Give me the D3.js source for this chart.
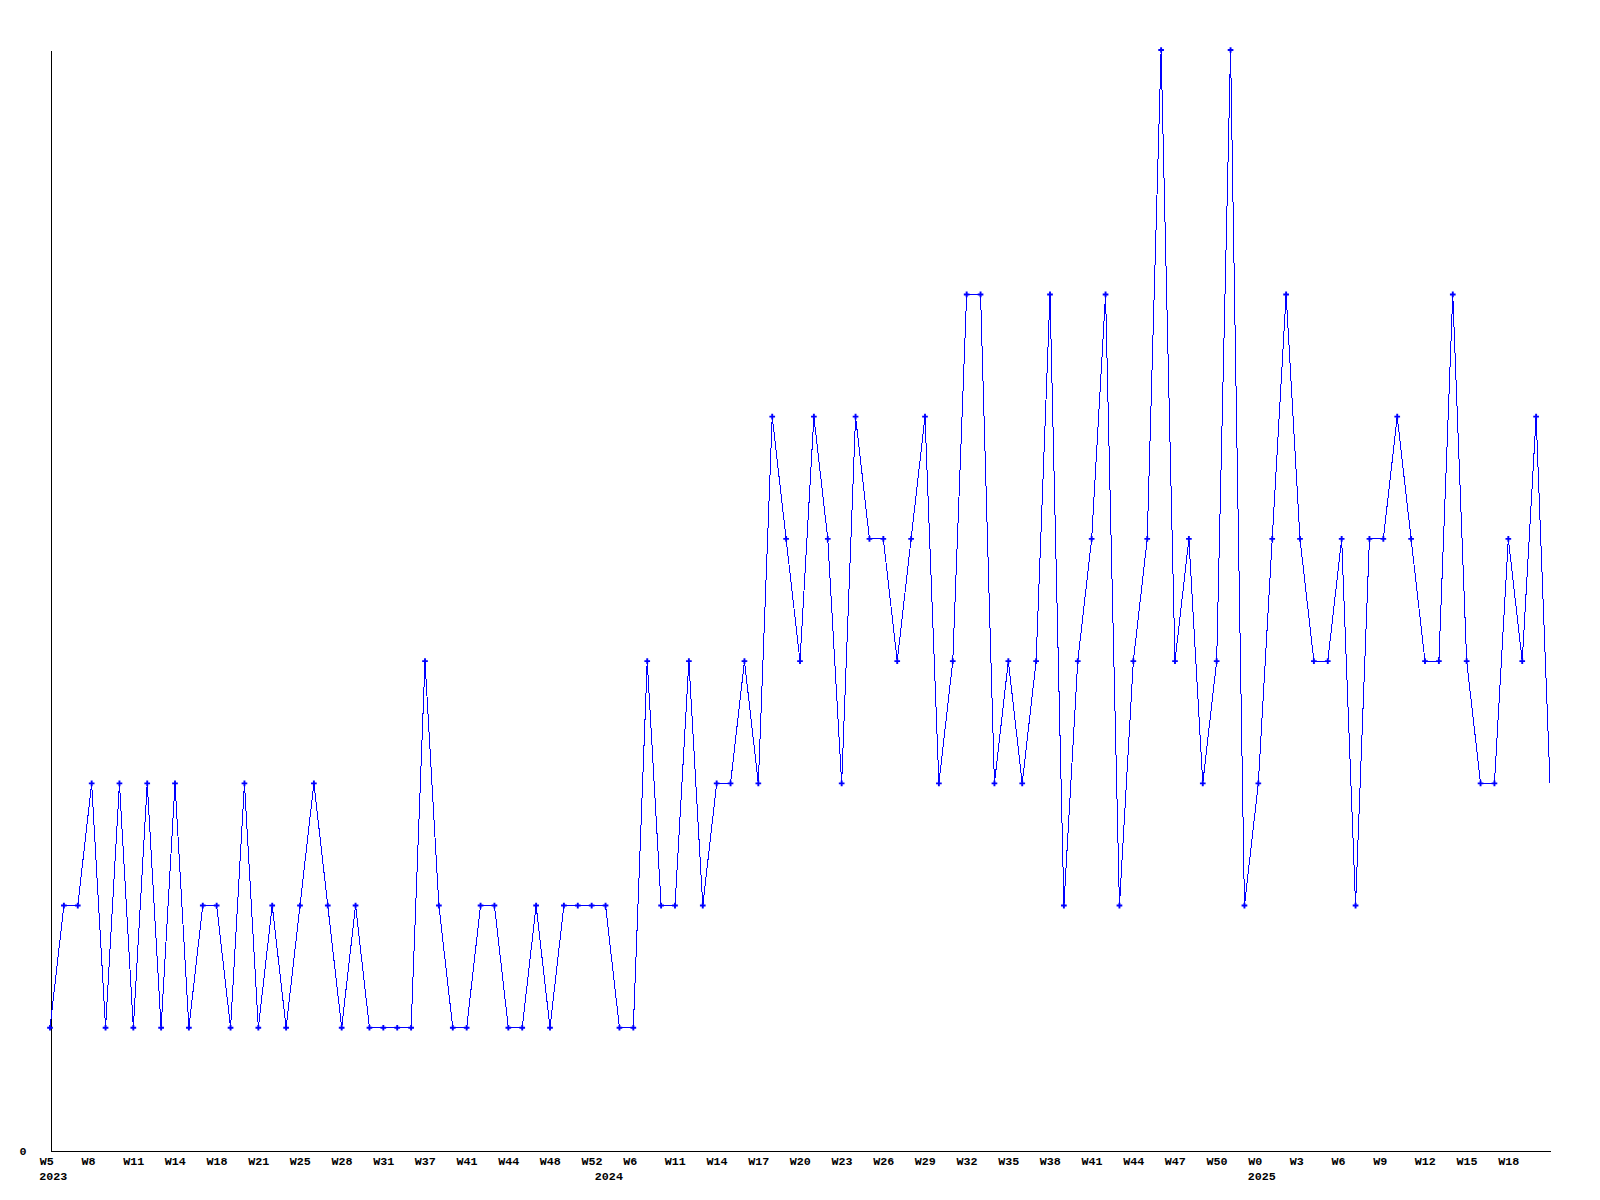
<!DOCTYPE html>
<html>
<head>
<meta charset="utf-8">
<script src="https://cdn.jsdelivr.net/npm/d3@7"></script>
<style>
  html, body { margin: 0; padding: 0; background: #fff; }
  svg { display: block; }
  text { font-family: "Liberation Mono", "DejaVu Sans Mono", monospace; font-weight: bold; font-size: 11.7px; fill: #000; }
</style>
</head>
<body>
<script>
// Weekly values, one per data point (points equally spaced by index)
const values = [
  1,2,2,3,1,3,1,3,1,3,1,2,2,1,3,1,2,1,2,3,2,1,2,1,1,1,1,4,2,
  1,1,2,2,1,1,2,1,2,2,2,2,1,1,4,2,2,4,2,3,3,4,3,
  6,5,4,6,5,3,6,5,5,4,5,6,3,4,7,7,3,4,3,4,7,2,4,5,7,
  2,4,5,9,4,5,3,4,9,2,3,5,7,5,4,4,5,2,5,5,6,5,4,4,7,4,3,3,5,4,6,3
];
// Week tick labels, every third point starting at index 0
const weekTickLabels = [
  "W5","W8","W11","W14","W18","W21","W25","W28","W31","W37","W41","W44","W48","W52",
  "W6","W11","W14","W17","W20","W23","W26","W29","W32","W35","W38","W41","W44","W47","W50",
  "W0","W3","W6","W9","W12","W15","W18"
];
const weekTickStep = 3;
// Year labels at the first point of each year
const yearLabels = ["2023","2024","2025"];
const yearIndices = [0, 40, 87];
const yTicks = [0];

const W = 1600, H = 1200;
const svg = d3.select("body").append("svg").attr("width", W).attr("height", H);
svg.append("rect").attr("width", W).attr("height", H).attr("fill", "#fff");

const x = d3.scaleLinear().domain([0, values.length - 1]).range([50, 1550]);
const y = d3.scaleLinear().domain([0, 9]).range([1150, 50]);

// X axis
const xTickVals = weekTickLabels.map((_, i) => i * weekTickStep);
const xAxis = d3.axisBottom(x)
  .tickValues(xTickVals)
  .tickFormat((d, i) => weekTickLabels[i])
  .tickSize(0).tickSizeOuter(0);
const gx = svg.append("g").attr("transform", "translate(0,1150.5)").call(xAxis);
gx.select(".domain").attr("stroke", "#000").attr("shape-rendering", "crispEdges");
gx.selectAll(".tick text")
  .attr("text-anchor", "start").attr("dx", -10.7).attr("y", 14.5).attr("dy", 0)
  .attr("fill", "#000");
gx.attr("font-size", null).attr("font-family", null);

// Year labels
svg.append("g").selectAll("text").data(yearLabels).join("text")
  .attr("x", (d, i) => x(yearIndices[i]) - 10.7)
  .attr("y", 1180)
  .text(d => d);

// Y axis
const yAxis = d3.axisLeft(y).tickValues(yTicks).tickFormat(d3.format("d")).tickSize(0).tickSizeOuter(0).tickPadding(24);
const gy = svg.append("g").attr("transform", "translate(50.5,0)").call(yAxis);
gy.select(".domain").attr("stroke", "#000").attr("shape-rendering", "crispEdges");
gy.selectAll(".tick text").attr("dy", 0).attr("y", 4.5).attr("fill", "#000");
gy.attr("font-size", null).attr("font-family", null);

// Line
const line = d3.line().x((d, i) => x(i)).y(d => y(d));
svg.append("path").datum(values)
  .attr("d", line)
  .attr("fill", "none")
  .attr("stroke", "#0000ff")
  .attr("stroke-width", 1)
  .attr("shape-rendering", "crispEdges");

// Cross markers (last point drawn without a marker)
const cross = d3.symbol().type(d3.symbolCross).size(18);
svg.append("g").selectAll("path").data(values.slice(0, values.length - 1)).join("path")
  .attr("transform", (d, i) => `translate(${x(i)},${y(d)})`)
  .attr("d", cross)
  .attr("fill", "#0000ff");
</script>
</body>
</html>
